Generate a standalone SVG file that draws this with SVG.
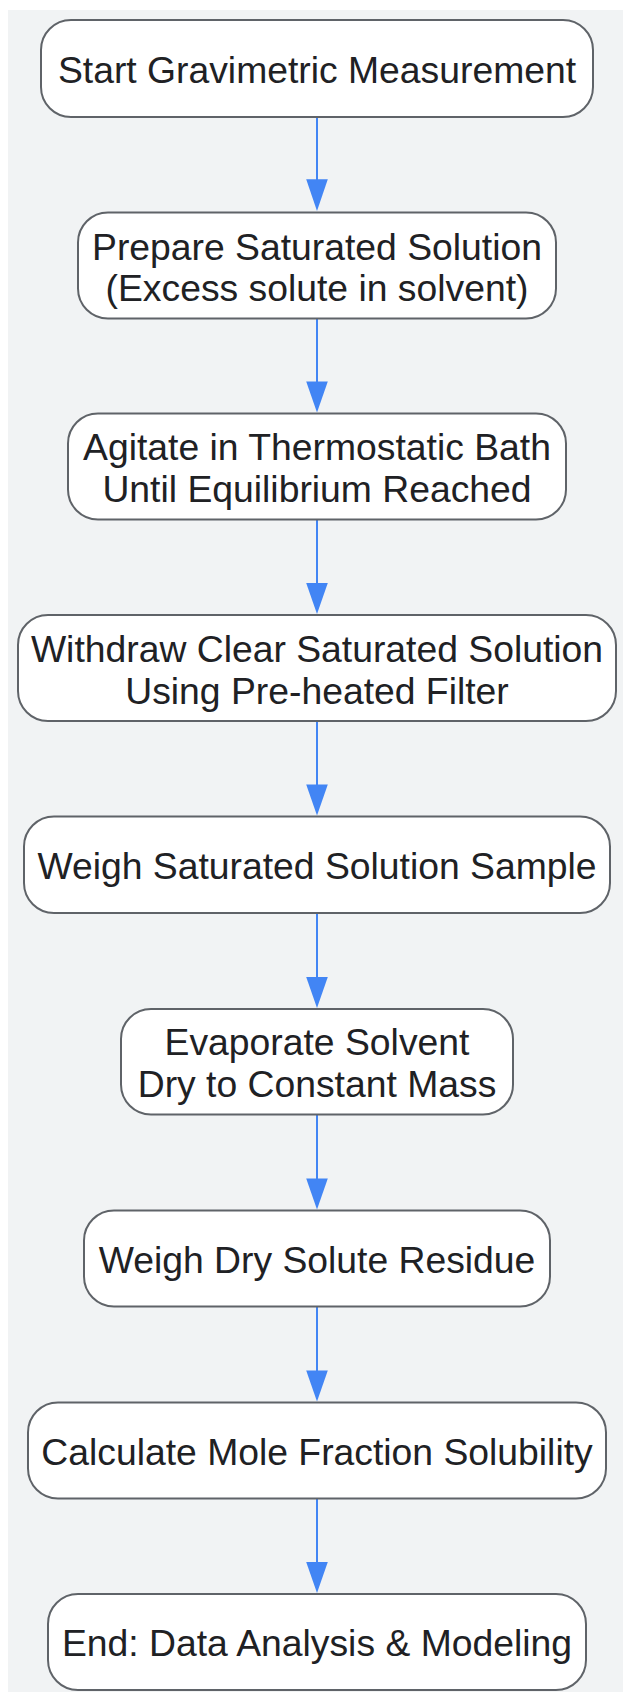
<svg xmlns="http://www.w3.org/2000/svg" width="623" height="1692" viewBox="0 0 623 1692">
<style>
.n rect{fill:#ffffff;stroke:#5f6368;stroke-width:2}
.n text{font-family:"Liberation Sans",Arial,sans-serif;font-size:37.3px;fill:#202124;text-anchor:middle}
.e line{stroke:#4285f4;stroke-width:2}
.e path{fill:#4285f4}
</style>
<rect x="8" y="10" width="615" height="1682" fill="#f1f3f4"/>
<g class="e" id="connectors">
<line x1="317" y1="117" x2="317" y2="182"/><path d="M306.2 179.3 L327.8 179.3 L317 211 Z"/>
<line x1="317" y1="318.5" x2="317" y2="384"/><path d="M306.2 381.5 L327.8 381.5 L317 412.5 Z"/>
<line x1="317" y1="519.5" x2="317" y2="586"/><path d="M306.2 583 L327.8 583 L317 614 Z"/>
<line x1="317" y1="721" x2="317" y2="788"/><path d="M306.2 784.5 L327.8 784.5 L317 815.5 Z"/>
<line x1="317" y1="913" x2="317" y2="980"/><path d="M306.2 977 L327.8 977 L317 1008 Z"/>
<line x1="317" y1="1114.5" x2="317" y2="1181"/><path d="M306.2 1178.5 L327.8 1178.5 L317 1209.5 Z"/>
<line x1="317" y1="1306.5" x2="317" y2="1373"/><path d="M306.2 1370.5 L327.8 1370.5 L317 1401.5 Z"/>
<line x1="317" y1="1498.5" x2="317" y2="1565"/><path d="M306.2 1562 L327.8 1562 L317 1593 Z"/>
</g>
<g class="n" id="n1"><rect x="41" y="20" width="552" height="97" rx="30" ry="30"/><text x="317" y="82.5">Start Gravimetric Measurement</text></g>
<g class="n" id="n2"><rect x="78" y="212.5" width="478" height="106" rx="30" ry="30"/><text x="317" y="259.5">Prepare Saturated Solution</text><text x="317" y="300.5">(Excess solute in solvent)</text></g>
<g class="n" id="n3"><rect x="68" y="413.5" width="498" height="106" rx="30" ry="30"/><text x="317" y="459.5">Agitate in Thermostatic Bath</text><text x="317" y="501.5">Until Equilibrium Reached</text></g>
<g class="n" id="n4"><rect x="18" y="615" width="598" height="106" rx="30" ry="30"/><text x="317" y="661.5">Withdraw Clear Saturated Solution</text><text x="317" y="703.5">Using Pre-heated Filter</text></g>
<g class="n" id="n5"><rect x="24" y="816.5" width="586" height="96.5" rx="30" ry="30"/><text x="317" y="878.5">Weigh Saturated Solution Sample</text></g>
<g class="n" id="n6"><rect x="121" y="1009" width="392" height="105.5" rx="30" ry="30"/><text x="317" y="1055">Evaporate Solvent</text><text x="317" y="1096.7">Dry to Constant Mass</text></g>
<g class="n" id="n7"><rect x="84" y="1210.5" width="466" height="96" rx="30" ry="30"/><text x="317" y="1272.5">Weigh Dry Solute Residue</text></g>
<g class="n" id="n8"><rect x="28" y="1402.5" width="578" height="96" rx="30" ry="30"/><text x="317" y="1464.5">Calculate Mole Fraction Solubility</text></g>
<g class="n" id="n9"><rect x="48" y="1594" width="538" height="96" rx="30" ry="30"/><text x="317" y="1656">End: Data Analysis &amp; Modeling</text></g>
</svg>
